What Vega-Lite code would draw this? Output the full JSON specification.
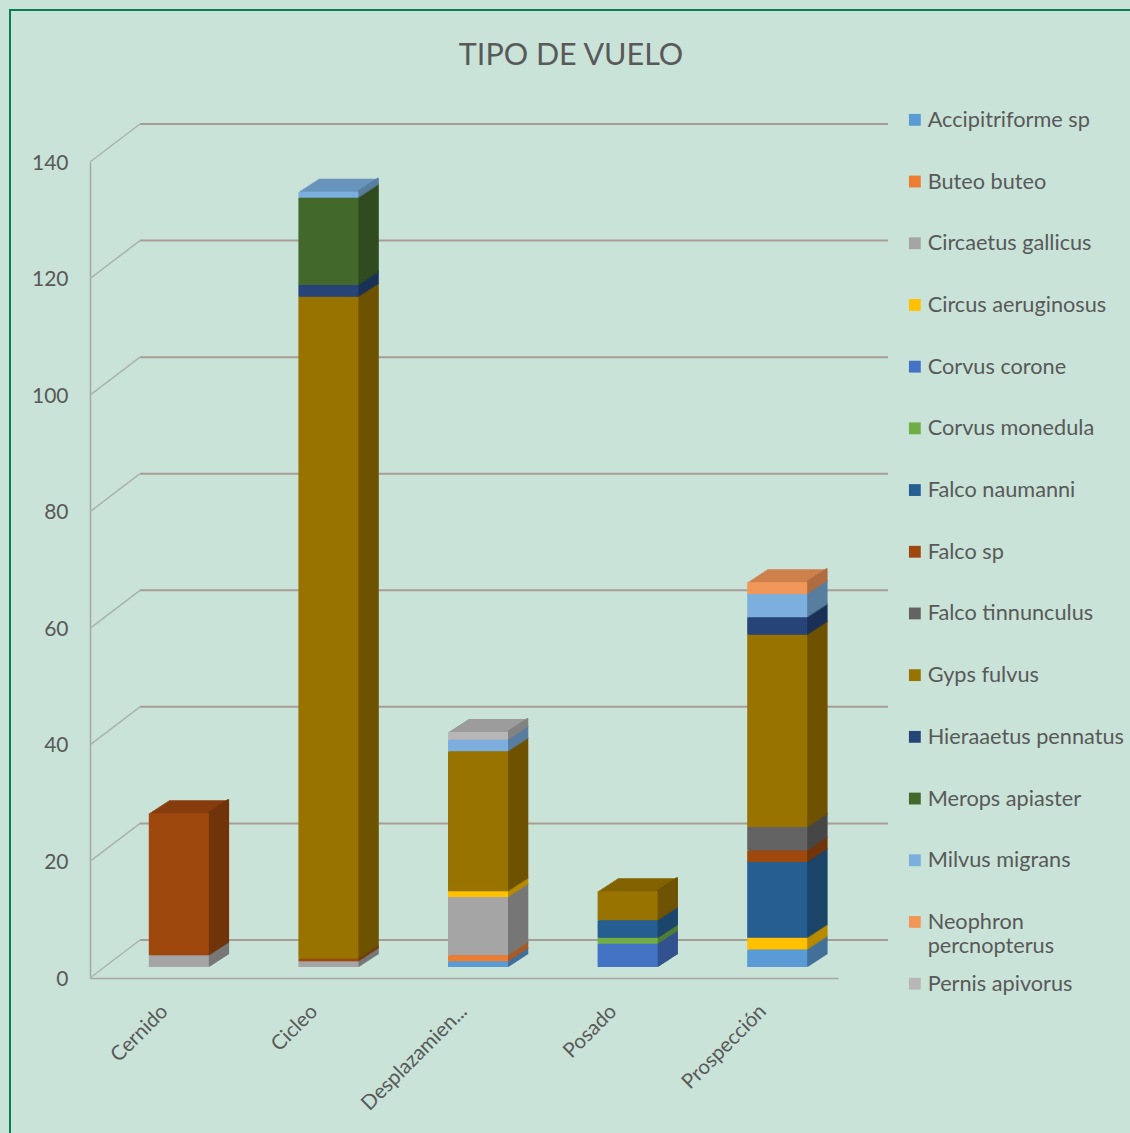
{
"$schema":"https://vega.github.io/schema/vega-lite/v6.json",
"autosize":{"type":"none"},
"width":748,"height":816,
"padding":{"left":90,"top":162,"right":292,"bottom":155},
"background":"#C9E3D8",
"title":{"text":"TIPO DE VUELO","font":"Lato","fontSize":30.5,"fontWeight":"normal","color":"#595959","anchor":"middle","frame":"group","dx":107,"offset":0,"dy":91},
"config":{"view":{"stroke":null},"axis":{"labelFont":"Lato","labelColor":"#595959"}},
"datasets":{
"ticks":[{"v":0},{"v":20},{"v":40},{"v":60},{"v":80},{"v":100},{"v":120},{"v":140}],
"segments":[
{"tipo":"Cernido","especie":"Circaetus gallicus","n":2},
{"tipo":"Cernido","especie":"Falco sp","n":24.4},
{"tipo":"Cicleo","especie":"Circaetus gallicus","n":1},
{"tipo":"Cicleo","especie":"Falco sp","n":0.4},
{"tipo":"Cicleo","especie":"Gyps fulvus","n":113.6},
{"tipo":"Cicleo","especie":"Hieraaetus pennatus","n":2},
{"tipo":"Cicleo","especie":"Merops apiaster","n":15},
{"tipo":"Cicleo","especie":"Milvus migrans","n":1},
{"tipo":"Desplazamien...","especie":"Accipitriforme sp","n":1},
{"tipo":"Desplazamien...","especie":"Buteo buteo","n":1},
{"tipo":"Desplazamien...","especie":"Circaetus gallicus","n":10},
{"tipo":"Desplazamien...","especie":"Circus aeruginosus","n":1},
{"tipo":"Desplazamien...","especie":"Gyps fulvus","n":24},
{"tipo":"Desplazamien...","especie":"Milvus migrans","n":2},
{"tipo":"Desplazamien...","especie":"Pernis apivorus","n":1.3},
{"tipo":"Posado","especie":"Corvus corone","n":4},
{"tipo":"Posado","especie":"Corvus monedula","n":1},
{"tipo":"Posado","especie":"Falco naumanni","n":3},
{"tipo":"Posado","especie":"Gyps fulvus","n":5},
{"tipo":"Prospección","especie":"Accipitriforme sp","n":3},
{"tipo":"Prospección","especie":"Circus aeruginosus","n":2},
{"tipo":"Prospección","especie":"Falco naumanni","n":13},
{"tipo":"Prospección","especie":"Falco sp","n":2},
{"tipo":"Prospección","especie":"Falco tinnunculus","n":4},
{"tipo":"Prospección","especie":"Gyps fulvus","n":33},
{"tipo":"Prospección","especie":"Hieraaetus pennatus","n":3},
{"tipo":"Prospección","especie":"Milvus migrans","n":4},
{"tipo":"Prospección","especie":"Neophron percnopterus","n":2}
]},
"layer":[
{"data":{"values":[{}]},"mark":{"type":"rect","fill":null,"stroke":"#ffffff","strokeWidth":20},
 "encoding":{"x":{"value":-100},"x2":{"value":1080},"y":{"value":-172},"y2":{"value":1010}}},
{"data":{"values":[{}]},"mark":{"type":"rect","fill":null,"stroke":"#0E7A55","strokeWidth":2},
 "encoding":{"x":{"value":-80},"x2":{"value":1060},"y":{"value":-152},"y2":{"value":990}}},
{"data":{"name":"ticks"},"mark":{"type":"rule","stroke":"#A79D97","strokeWidth":2,"yOffset":-38},
 "encoding":{"x":{"value":50},"x2":{"value":798},"y":{"field":"v","type":"quantitative","title":null,"scale":{"domain":[0,140],"nice":false},
   "axis":{"values":[0,20,40,60,80,100,120,140],"grid":false,"ticks":false,"labelFontSize":21,"labelPadding":22,"labelOffset":1,"domainColor":"#A6A6A6","domainWidth":1.5}}}},
{"data":{"name":"ticks"},"mark":{"type":"rule","stroke":"#ABB3AF","strokeWidth":1.5,"y2Offset":-38},
 "encoding":{"x":{"value":0},"x2":{"value":50},"y":{"field":"v","type":"quantitative","title":null,
   "axis":{"values":[0,20,40,60,80,100,120,140],"grid":false,"ticks":false,"labelFontSize":21,"labelPadding":22,"labelOffset":1,"domainColor":"#A6A6A6","domainWidth":1.5}},"y2":{"field":"v"}}},
{"data":{"name":"segments"},
 "encoding":{
  "x":{"field":"tipo","type":"nominal","sort":null,"title":null,"scale":{"paddingInner":0,"paddingOuter":0},
   "axis":{"labelAngle":-45,"labelFontSize":20.5,"labelAlign":"right","labelBaseline":"middle","labelPadding":30,"ticks":false,"domainColor":"#A6A6A6","domainWidth":1.5,"labelLimit":300}},
  "y":{"field":"n","type":"quantitative","stack":"zero","title":null,"scale":{"domain":[0,140],"nice":false},
   "axis":{"values":[0,20,40,60,80,100,120,140],"grid":false,"ticks":false,"labelFontSize":21,"labelPadding":22,"labelOffset":1,"domainColor":"#A6A6A6","domainWidth":1.5}},
  "order":{"field":"especie","sort":"ascending"}
 },
 "layer":[
 {"encoding":{"fill":{"field":"especie","type":"nominal","legend":null,"scale":{
   "domain":["Pernis apivorus","Neophron percnopterus","Milvus migrans","Merops apiaster","Hieraaetus pennatus","Gyps fulvus","Falco tinnunculus","Falco sp","Falco naumanni","Corvus monedula","Corvus corone","Circus aeruginosus","Circaetus gallicus","Buteo buteo","Accipitriforme sp"],
   "range":["#9C9C9C","#CD804D","#6995BC","#395825","#203A66","#826200","#545454","#863D0C","#1F507B","#5F933C","#3A61A7","#D9A300","#8C8C8C","#C96A2A","#4D84B5"]}}},
  "layer":[
  {"mark":{"type":"bar","size":60,"xOffset":34,"yOffset":-24,"y2Offset":-24}},
  {"mark":{"type":"bar","size":60,"xOffset":32.5,"yOffset":-23,"y2Offset":-23}},
  {"mark":{"type":"bar","size":60,"xOffset":30.9,"yOffset":-22,"y2Offset":-22}},
  {"mark":{"type":"bar","size":60,"xOffset":29.4,"yOffset":-21,"y2Offset":-21}},
  {"mark":{"type":"bar","size":60,"xOffset":27.8,"yOffset":-20,"y2Offset":-20}},
  {"mark":{"type":"bar","size":60,"xOffset":26.3,"yOffset":-19,"y2Offset":-19}},
  {"mark":{"type":"bar","size":60,"xOffset":24.8,"yOffset":-18,"y2Offset":-18}},
  {"mark":{"type":"bar","size":60,"xOffset":23.2,"yOffset":-17,"y2Offset":-17}},
  {"mark":{"type":"bar","size":60,"xOffset":21.7,"yOffset":-16,"y2Offset":-16}},
  {"mark":{"type":"bar","size":60,"xOffset":20.2,"yOffset":-15,"y2Offset":-15}},
  {"mark":{"type":"bar","size":60,"xOffset":18.6,"yOffset":-14,"y2Offset":-14}},
  {"mark":{"type":"bar","size":60,"xOffset":17.1,"yOffset":-13,"y2Offset":-13}},
  {"mark":{"type":"bar","size":60,"xOffset":15.5,"yOffset":-12,"y2Offset":-12}}
  ]},
 {"encoding":{"stroke":{"field":"especie","type":"nominal","legend":null,"scale":{
   "domain":["Buteo buteo","Circaetus gallicus","Circus aeruginosus","Corvus corone","Corvus monedula","Falco naumanni","Falco sp","Falco tinnunculus","Gyps fulvus","Hieraaetus pennatus","Merops apiaster","Milvus migrans","Neophron percnopterus","Pernis apivorus","Accipitriforme sp"],
   "range":["#AB5A23","#777777","#B88A00","#31528D","#517D33","#1B4469","#72340A","#474747","#6E5300","#1B3156","#304B1F","#597E9F","#AE6D41","#848484","#427099"]}}},
  "layer":[
  {"mark":{"type":"bar","size":0.2,"strokeWidth":1.4,"xOffset":63.5,"yOffset":-24.3,"y2Offset":-24.3}},
  {"mark":{"type":"bar","size":0.2,"strokeWidth":1.4,"xOffset":62.5,"yOffset":-23.7,"y2Offset":-23.7}},
  {"mark":{"type":"bar","size":0.2,"strokeWidth":1.4,"xOffset":61.5,"yOffset":-23,"y2Offset":-23}},
  {"mark":{"type":"bar","size":0.2,"strokeWidth":1.4,"xOffset":60.5,"yOffset":-22.4,"y2Offset":-22.4}},
  {"mark":{"type":"bar","size":0.2,"strokeWidth":1.4,"xOffset":59.5,"yOffset":-21.7,"y2Offset":-21.7}},
  {"mark":{"type":"bar","size":0.2,"strokeWidth":1.4,"xOffset":58.5,"yOffset":-21.1,"y2Offset":-21.1}},
  {"mark":{"type":"bar","size":0.2,"strokeWidth":1.4,"xOffset":57.5,"yOffset":-20.4,"y2Offset":-20.4}},
  {"mark":{"type":"bar","size":0.2,"strokeWidth":1.4,"xOffset":56.5,"yOffset":-19.8,"y2Offset":-19.8}},
  {"mark":{"type":"bar","size":0.2,"strokeWidth":1.4,"xOffset":55.5,"yOffset":-19.1,"y2Offset":-19.1}},
  {"mark":{"type":"bar","size":0.2,"strokeWidth":1.4,"xOffset":54.5,"yOffset":-18.5,"y2Offset":-18.5}},
  {"mark":{"type":"bar","size":0.2,"strokeWidth":1.4,"xOffset":53.5,"yOffset":-17.8,"y2Offset":-17.8}},
  {"mark":{"type":"bar","size":0.2,"strokeWidth":1.4,"xOffset":52.5,"yOffset":-17.2,"y2Offset":-17.2}},
  {"mark":{"type":"bar","size":0.2,"strokeWidth":1.4,"xOffset":51.5,"yOffset":-16.5,"y2Offset":-16.5}},
  {"mark":{"type":"bar","size":0.2,"strokeWidth":1.4,"xOffset":50.5,"yOffset":-15.9,"y2Offset":-15.9}},
  {"mark":{"type":"bar","size":0.2,"strokeWidth":1.4,"xOffset":49.5,"yOffset":-15.2,"y2Offset":-15.2}},
  {"mark":{"type":"bar","size":0.2,"strokeWidth":1.4,"xOffset":48.5,"yOffset":-14.6,"y2Offset":-14.6}},
  {"mark":{"type":"bar","size":0.2,"strokeWidth":1.4,"xOffset":47.5,"yOffset":-13.9,"y2Offset":-13.9}},
  {"mark":{"type":"bar","size":0.2,"strokeWidth":1.4,"xOffset":46.5,"yOffset":-13.3,"y2Offset":-13.3}},
  {"mark":{"type":"bar","size":0.2,"strokeWidth":1.4,"xOffset":45.5,"yOffset":-12.6,"y2Offset":-12.6}},
  {"mark":{"type":"bar","size":0.2,"strokeWidth":1.4,"xOffset":44.5,"yOffset":-12,"y2Offset":-12}}
  ]},
 {"mark":{"type":"bar","size":60,"xOffset":14,"yOffset":-11,"y2Offset":-11},
  "encoding":{"color":{"field":"especie","type":"nominal","scale":{
   "domain":["Accipitriforme sp","Buteo buteo","Circaetus gallicus","Circus aeruginosus","Corvus corone","Corvus monedula","Falco naumanni","Falco sp","Falco tinnunculus","Gyps fulvus","Hieraaetus pennatus","Merops apiaster","Milvus migrans","Neophron percnopterus","Pernis apivorus"],
   "range":["#5B9BD5","#ED7D31","#A5A5A5","#FFC000","#4472C4","#70AD47","#255E91","#9E480E","#636363","#997300","#264478","#43682B","#7CAFDD","#F1975A","#B7B7B7"]},
   "legend":{"title":null,"orient":"none","legendX":814,"legendY":-53,"symbolType":"square","symbolSize":140,"symbolStrokeWidth":0,"labelFont":"Lato","labelFontSize":21.7,"labelColor":"#595959","labelLimit":320,"rowPadding":14.7,"labelOffset":2,
    "labelExpr":"datum.label=='Neophron percnopterus'?['Neophron','percnopterus']:[datum.label,'']"}}}}
 ]}
]
}
